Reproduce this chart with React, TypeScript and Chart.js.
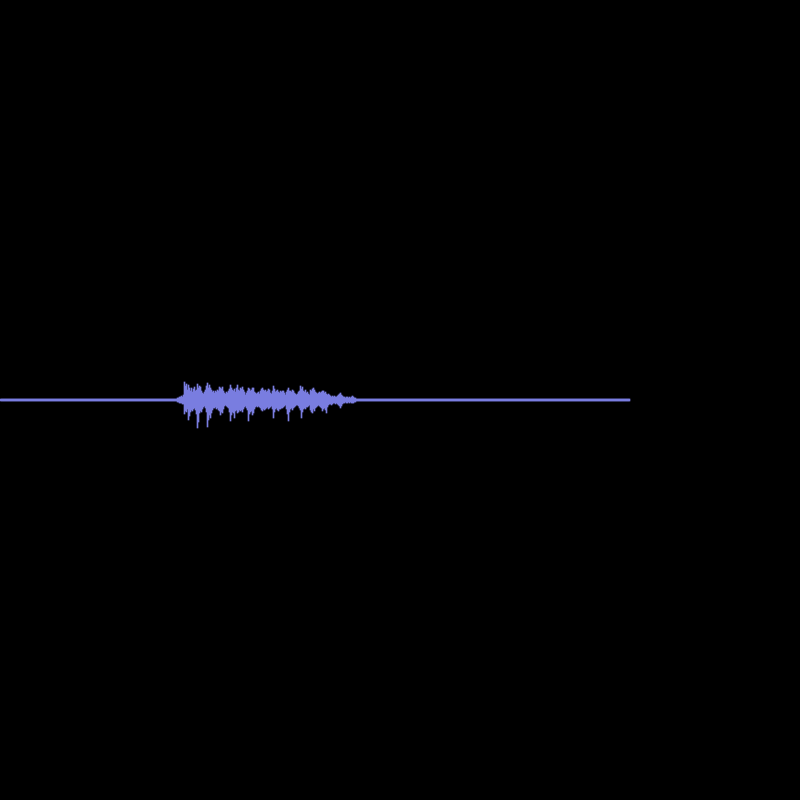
import React, { useEffect, useRef } from "react";
import { Chart, registerables } from "chart.js";

Chart.register(...registerables);

// Sample columns (pixel-resolution) of the audio waveform envelope
const TOTAL_COLUMNS = 800;
const SIGNAL_END = 630; // columns with signal (the rest is empty)
const BURST_START = 176;
const SILENCE_AMP = 1;

// Positive peaks (amplitude above the centre line) for each column from BURST_START
const peaksUp: number[] = [
  1, 2, 2, 3, 3, 4, 3, 5,
  18, 14, 16, 10, 15, 12,
  9, 12, 8, 11, 13, 9, 10, 16, 12, 14,
  13, 9, 7, 6, 8, 10, 14, 17, 12, 15,
  12, 10, 8, 9, 7, 9, 8, 10, 9, 13,
  12, 11, 13, 9, 7, 6, 8, 7, 9, 11,
  15, 12, 10, 9, 11, 8, 12, 15, 10, 9,
  12, 11, 13, 10, 8, 5, 7, 9, 12, 11,
  9, 10, 12, 12, 8, 7, 6, 7, 8, 6,
  9, 11, 12, 10, 9, 10, 8, 9, 11, 10,
  7, 6, 9, 14, 11, 8, 9, 10, 8, 7,
  9, 8, 9, 9, 7, 5, 8, 10, 12, 9,
  9, 8, 10, 9, 7, 6, 5, 6, 8, 9,
  14, 11, 13, 9, 8, 10, 7, 8, 6, 5,
  10, 9, 11, 12, 10, 8, 7, 6, 7, 8,
  7, 8, 9, 9, 7, 8, 6, 5, 6, 5,
  4, 3, 4, 3, 4, 3, 3, 4, 5, 6,
  7, 5, 4, 3, 3, 2, 3, 3, 2, 3,
  2, 3, 4, 3, 2, 2, 1, 1,
];

// Negative troughs (amplitude below the centre line) for each column from BURST_START
const peaksDown: number[] = [
  1, 2, 2, 3, 3, 3, 4, 4,
  14, 11, 12, 9, 20, 16,
  12, 10, 11, 9, 8, 10, 14, 28, 22, 13,
  11, 12, 9, 7, 6, 8, 12, 27, 20, 15,
  18, 13, 10, 8, 8, 7, 9, 8, 10, 11,
  15, 12, 13, 9, 6, 5, 6, 7, 8, 12,
  21, 15, 12, 13, 18, 11, 10, 13, 12, 10,
  11, 10, 12, 9, 7, 6, 8, 10, 21, 14,
  12, 11, 15, 13, 9, 7, 6, 7, 6, 7,
  8, 10, 11, 9, 10, 9, 8, 7, 9, 8,
  7, 6, 9, 18, 12, 9, 8, 10, 11, 9,
  9, 8, 8, 7, 6, 5, 9, 14, 21, 12,
  9, 8, 10, 8, 7, 6, 5, 5, 6, 8,
  10, 18, 12, 9, 8, 9, 7, 7, 6, 5,
  10, 12, 13, 9, 11, 8, 7, 6, 5, 6,
  7, 8, 11, 9, 8, 10, 13, 7, 5, 4,
  4, 5, 4, 3, 3, 4, 3, 4, 5, 6,
  8, 6, 4, 3, 3, 2, 3, 3, 2, 3,
  2, 3, 3, 3, 2, 2, 1, 1,
];

const WAVE_COLOR = "#7a7ee0";

export default function App() {
  const canvasRef = useRef<HTMLCanvasElement | null>(null);

  useEffect(() => {
    document.body.style.margin = "0";
    document.body.style.background = "#000";
    const canvas = canvasRef.current;
    if (!canvas) return;

    const labels: number[] = [];
    const values: ([number, number] | null)[] = [];
    for (let i = 0; i < TOTAL_COLUMNS; i++) {
      labels.push(i);
      if (i >= SIGNAL_END) {
        values.push(null);
        continue;
      }
      const k = i - BURST_START;
      if (k >= 0 && k < peaksUp.length) {
        const up = Math.max(peaksUp[k], SILENCE_AMP);
        const down = Math.max(peaksDown[k], SILENCE_AMP);
        values.push([-down, up]);
      } else {
        values.push([-SILENCE_AMP, SILENCE_AMP]);
      }
    }

    const chart = new Chart(canvas, {
      type: "bar",
      data: {
        labels,
        datasets: [
          {
            data: values as any,
            backgroundColor: WAVE_COLOR,
            borderWidth: 0,
            borderSkipped: false,
            barPercentage: 1,
            categoryPercentage: 1,
          },
        ],
      },
      options: {
        animation: false,
        responsive: false,
        devicePixelRatio: 1,
        layout: { padding: 0 },
        plugins: {
          legend: { display: false },
          tooltip: { enabled: false },
          title: { display: false },
        },
        scales: {
          x: { display: false, offset: true, grid: { display: false } },
          y: { display: false, min: -400, max: 400, grid: { display: false } },
        },
      },
    });

    return () => chart.destroy();
  }, []);

  return (
    <div style={{ width: 800, height: 800, background: "#000", position: "absolute", left: 0, top: 0 }}>
      <canvas ref={canvasRef} width={800} height={800} style={{ display: "block" }} />
    </div>
  );
}
